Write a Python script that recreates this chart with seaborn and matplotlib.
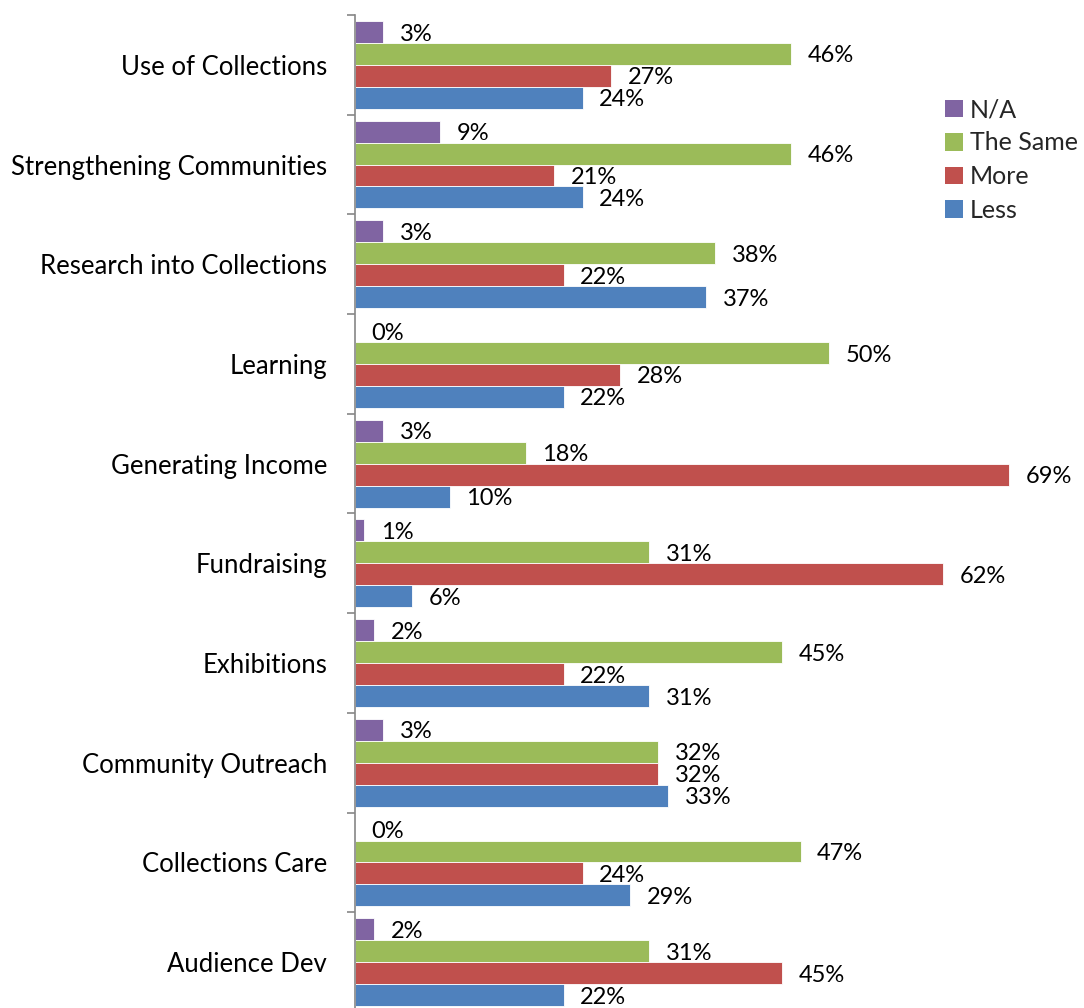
import matplotlib
matplotlib.use("Agg")
import matplotlib.pyplot as plt
import seaborn as sns
import pandas as pd
import numpy as np
from matplotlib.ticker import FixedLocator

categories = [
    "Use of Collections", "Strengthening Communities", "Research into Collections",
    "Learning", "Generating Income", "Fundraising", "Exhibitions",
    "Community Outreach", "Collections Care", "Audience Dev",
]
series = ["N/A", "The Same", "More", "Less"]
na_vals = [3, 9, 3, 0, 3, 1, 2, 3, 0, 2]
same_vals = [46, 46, 38, 50, 18, 31, 45, 32, 47, 31]
more_vals = [27, 21, 22, 28, 69, 62, 22, 32, 24, 45]
less_vals = [24, 24, 37, 22, 10, 6, 31, 33, 29, 22]

colors = ["#8064A2", "#9BBB59", "#C0504D", "#4F81BD"]

rows = []
for name, vals in zip(series, [na_vals, same_vals, more_vals, less_vals]):
    for cat, v in zip(categories, vals):
        rows.append({"Category": cat, "Series": name, "Value": v})
df = pd.DataFrame(rows)

sns.set_style("white")
plt.rcParams["font.family"] = ["Lato", "DejaVu Sans"]

fig = plt.figure(figsize=(10.84, 10.08), dpi=100)
ax = fig.add_axes([355 / 1084, 0.0, 1 - 355 / 1084 - 18 / 1084, 1 - 15 / 1008])

sns.barplot(data=df, y="Category", x="Value", hue="Series", order=categories,
            hue_order=series, palette=colors, saturation=1, orient="h", width=0.88,
            edgecolor="white", linewidth=0.6, ax=ax, legend=True)

ax.set_xlim(0, 75)
ax.set_ylim(9.46, -0.5)

# value labels to the right of each bar
for container in ax.containers:
    labels = [f"{int(round(b.get_width()))}%" for b in container]
    texts = ax.bar_label(container, labels=labels, padding=12, fontsize=17, color="black")
    for t in texts:
        t.set_y(t.get_position()[1] - 1.5)

for s in ["top", "right", "bottom"]:
    ax.spines[s].set_visible(False)
ax.spines["left"].set_color("#868686")
ax.spines["left"].set_linewidth(1.2)

ax.set_xticks([])
ax.set_xlabel("")
ax.set_ylabel("")
ax.yaxis.set_minor_locator(FixedLocator(np.arange(-0.5, 10, 1.0)))
ax.tick_params(axis="y", which="major", length=0, pad=20, labelsize=18.5, labelcolor="black")
ax.tick_params(axis="y", which="minor", length=6, width=1.2, color="#868686", left=True)

leg = ax.legend(loc="upper left", bbox_to_anchor=(935 / 1084, 1 - 88 / 1008),
                bbox_transform=fig.transFigure, frameon=False, fontsize=18,
                handlelength=0.7, handleheight=0.7, handletextpad=0.3,
                labelspacing=0.42, borderaxespad=0)
for h in leg.legend_handles:
    h.set_edgecolor("none")

fig.savefig("out.png", dpi=100)
